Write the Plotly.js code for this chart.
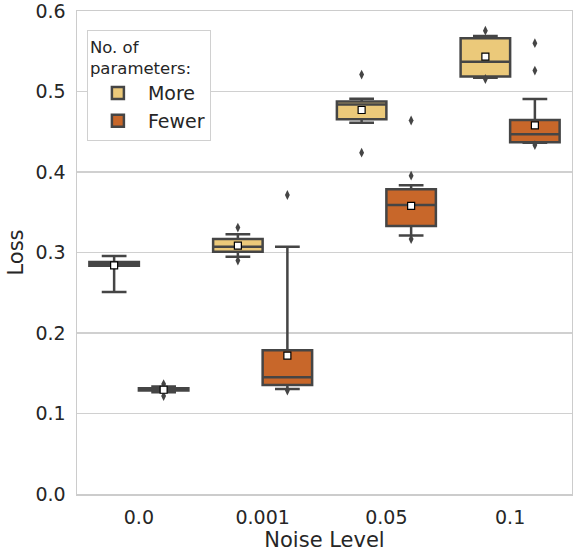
<!DOCTYPE html>
<html>
<head>
<meta charset="utf-8">
<script src="https://cdn.plot.ly/plotly-3.0.1.min.js"></script>
<style>html,body{margin:0;padding:0;background:#fff;}#chart{width:573px;height:553px;}</style>
</head>
<body>
<div id="chart"></div>
<script>
// Categories (noise level) and hue groups
const categories = ['0.0', '0.001', '0.05', '0.1'];
const hueNames = ['More', 'Fewer'];
const yTicks = [0, 0.1, 0.2, 0.3, 0.4, 0.5, 0.6];

// "More" parameters: box statistics per noise level
const moreQ1 = [0.2835, 0.3010, 0.4655, 0.5185];
const moreMedian = [0.2858, 0.3070, 0.4840, 0.5370];
const moreQ3 = [0.2882, 0.3168, 0.4875, 0.5660];
const moreLowerWhisker = [0.2510, 0.2948, 0.4613, 0.5170];
const moreUpperWhisker = [0.2957, 0.3226, 0.4910, 0.5690];
const moreMean = [0.2840, 0.3085, 0.4770, 0.5432];
const moreOutlierCat = ['0.001', '0.001', '0.05', '0.05', '0.1', '0.1'];
const moreOutlierVal = [0.3310, 0.2900, 0.5210, 0.4240, 0.5755, 0.5155];

// "Fewer" parameters: box statistics per noise level
const fewerQ1 = [0.1285, 0.1354, 0.3330, 0.4369];
const fewerMedian = [0.1300, 0.1450, 0.3590, 0.4468];
const fewerQ3 = [0.1315, 0.1785, 0.3785, 0.4646];
const fewerLowerWhisker = [0.1265, 0.1304, 0.3210, 0.4364];
const fewerUpperWhisker = [0.1335, 0.3072, 0.3835, 0.4907];
const fewerMean = [0.1295, 0.1718, 0.3580, 0.4580];
const fewerOutlierCat = ['0.0', '0.0', '0.001', '0.001', '0.05', '0.05', '0.05', '0.1', '0.1', '0.1'];
const fewerOutlierVal = [0.1366, 0.1217, 0.3714, 0.1285, 0.4640, 0.3954, 0.3168, 0.5600, 0.5260, 0.4335];

const colors = ['#ebc97a', '#c8672a'];
const edge = '#454545';
const txt = '#262626';
const font = 'DejaVu Sans, sans-serif';

// hue dodge: 0.8 of the category width split in two
const dodge = [-0.2, 0.2];
const pos = (cat, h) => categories.indexOf(cat) + dodge[h];

const stats = [
  {q1: moreQ1, med: moreMedian, q3: moreQ3, lo: moreLowerWhisker, hi: moreUpperWhisker, mean: moreMean, oc: moreOutlierCat, ov: moreOutlierVal},
  {q1: fewerQ1, med: fewerMedian, q3: fewerQ3, lo: fewerLowerWhisker, hi: fewerUpperWhisker, mean: fewerMean, oc: fewerOutlierCat, ov: fewerOutlierVal}
];

const traces = [];
stats.forEach((s, h) => {
  traces.push({
    type: 'box', name: hueNames[h],
    x: categories.map(c => pos(c, h)),
    q1: s.q1, median: s.med, q3: s.q3, lowerfence: s.lo, upperfence: s.hi,
    width: 0.4, whiskerwidth: 0.5, boxpoints: false,
    fillcolor: colors[h], line: {color: edge, width: 2.5},
    hoverinfo: 'skip'
  });
});
stats.forEach((s, h) => {
  traces.push({
    type: 'scatter', mode: 'markers', showlegend: false, hoverinfo: 'skip',
    x: s.oc.map(c => pos(c, h)), y: s.ov,
    marker: {symbol: 'diamond-tall', size: 7, color: edge}
  });
  traces.push({
    type: 'scatter', mode: 'markers', showlegend: false, hoverinfo: 'skip',
    x: categories.map(c => pos(c, h)), y: s.mean,
    marker: {symbol: 'square', size: 7, color: '#ffffff', line: {color: '#000000', width: 1.2}}
  });
});

const layout = {
  width: 573, height: 553,
  margin: {l: 77, r: 1, t: 11, b: 59},
  paper_bgcolor: '#ffffff', plot_bgcolor: '#ffffff',
  font: {family: font, color: txt},
  showlegend: true,
  boxmode: 'overlay',
  xaxis: {
    range: [-0.5, 3.5], tickvals: [0, 1, 2, 3], ticktext: categories,
    showgrid: false, zeroline: false, showline: true, mirror: true,
    linecolor: '#cccccc', linewidth: 1.5, ticks: '',
    tickfont: {family: font, size: 19, color: txt},
    ticklabelstandoff: 6,
    title: {text: 'Noise Level', font: {family: font, size: 21, color: txt}, standoff: 4}
  },
  yaxis: {
    range: [0, 0.6], tickvals: yTicks, tickformat: '.1f',
    showgrid: true, gridcolor: '#d0d0d0', gridwidth: 1.5,
    zeroline: false, showline: true, mirror: true,
    linecolor: '#cccccc', linewidth: 1.5, ticks: '',
    tickfont: {family: font, size: 19, color: txt},
    ticklabelstandoff: 6, ticklabeloverflow: 'allow',
    title: {text: 'Loss', font: {family: font, size: 21, color: txt}, standoff: 6}
  },
  legend: {
    x: 0.02, y: 0.96, xanchor: 'left', yanchor: 'top',
    bgcolor: '#ffffff', bordercolor: '#d0d0d0', borderwidth: 1,
    font: {family: font, size: 19, color: txt},
    title: {text: 'No. of<br>parameters:', font: {family: font, size: 16.5, color: txt}},
    itemwidth: 50, traceorder: 'normal', tracegroupgap: 0
  }
};

Plotly.newPlot('chart', traces, layout, {staticPlot: true, displayModeBar: false});
</script>
</body>
</html>
